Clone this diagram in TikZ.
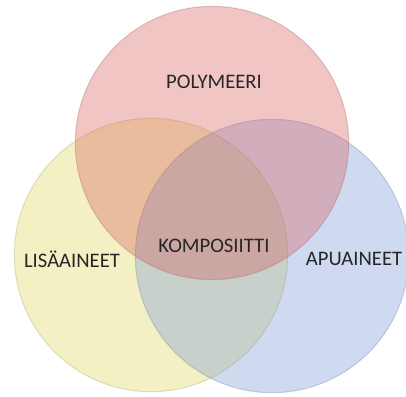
\documentclass[tikz,border=0pt]{standalone}
\usepackage{fontspec}
\setmainfont{Carlito}
\usepackage{tikz}
\usetikzlibrary{positioning}

\definecolor{polyred}{RGB}{217,89,89}
\definecolor{lisayellow}{RGB}{220,214,86}
\definecolor{apublue}{RGB}{117,149,214}

\begin{document}
\begin{tikzpicture}[x=0.75pt, y=-0.75pt,
		venn/.style={circle, inner sep=0pt, minimum size=205pt, fill opacity=0.35, draw opacity=0.35, line width=0.8pt},
		label/.style={font=\fontsize{15.5}{18}\selectfont, text=black!85}]
				\useasboundingbox (0,0) rectangle (406,396);
				\node[venn, fill=lisayellow, draw=lisayellow!50!gray] (lisa) at (151,255) {};
				\node[venn, fill=apublue, draw=apublue!50!gray] (apu) at (272,256) {};
				\node[venn, fill=polyred, draw=polyred!50!gray] (poly) at (212,143) {};
				
				\node[label] (t_poly) at (214,82) {POLYMEERI};
				\node[label] (t_komp) at (214,246) {KOMPOSIITTI};
				\node[label] (t_lisa) at (72,259) {LISÄAINEET};
				\node[label] (t_apu) at (354,259) {APUAINEET};
			\end{tikzpicture}
\end{document}
